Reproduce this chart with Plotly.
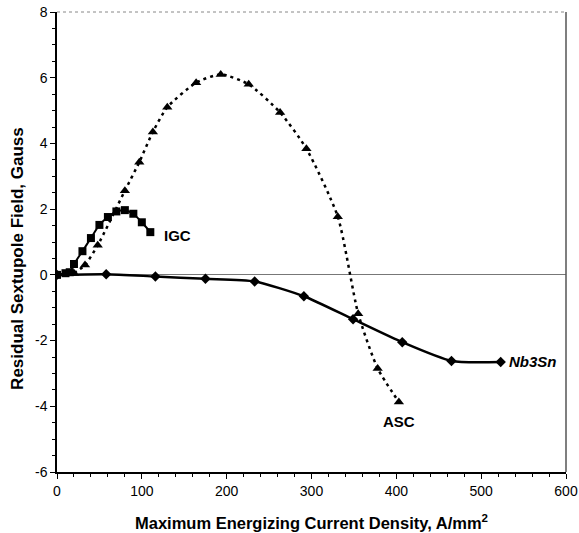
import plotly.graph_objects as go

# IGC conductor (squares, solid line)
igc_x = [0, 10, 15, 20, 30, 40, 50, 60, 70, 80, 90, 100, 110]
igc_y = [0, 0.05, 0.08, 0.33, 0.72, 1.12, 1.52, 1.76, 1.93, 1.97, 1.86, 1.6, 1.3]

# ASC conductor (triangles, dotted line)
asc_x = [20, 33, 48, 80, 97, 113, 130, 164, 193, 226, 263, 294, 331, 355, 378, 403]
asc_y = [0.05, 0.3, 0.9, 2.56, 3.43, 4.35, 5.1, 5.85, 6.1, 5.8, 4.94, 3.84, 1.77, -1.18, -2.85, -3.87]

# Nb3Sn conductor (diamonds, solid line)
nb_x = [0, 58, 116, 175, 233, 291, 349, 407, 465, 523]
nb_y = [0, 0.02, -0.05, -0.12, -0.2, -0.65, -1.35, -2.05, -2.62, -2.65]

x_ticks = [0, 100, 200, 300, 400, 500, 600]
y_ticks = [-6, -4, -2, 0, 2, 4, 6, 8]
y_ticktext = ['-6', '-4', '-2', '0', '2', '4', '6', '8']

FONT = 'Liberation Sans, Arial, sans-serif'

fig = go.Figure()
fig.add_trace(go.Scatter(x=nb_x, y=nb_y, mode='lines+markers',
                         line={'color': 'black', 'width': 2.5, 'shape': 'spline', 'smoothing': 0.6},
                         marker={'symbol': 'diamond', 'size': 8, 'color': 'black'},
                         showlegend=False))
fig.add_trace(go.Scatter(x=asc_x, y=asc_y, mode='lines+markers',
                         line={'color': 'black', 'width': 2.5, 'dash': '3px,4px',
                               'shape': 'spline', 'smoothing': 0.6},
                         marker={'symbol': 'triangle-up', 'size': 9, 'color': 'black'},
                         showlegend=False))
fig.add_trace(go.Scatter(x=igc_x, y=igc_y, mode='lines+markers',
                         line={'color': 'black', 'width': 2, 'shape': 'spline', 'smoothing': 0.5},
                         marker={'symbol': 'square', 'size': 8, 'color': 'black'},
                         showlegend=False))

label_font = {'family': FONT, 'size': 15, 'color': 'black'}
fig.add_annotation(x=124, y=1.2, text='<b>IGC</b>', showarrow=False, xanchor='left', font=label_font)
fig.add_annotation(x=531, y=-2.65, text='<b><i>Nb3Sn</i></b>', showarrow=False, xanchor='left', font=label_font)
fig.add_annotation(x=403, y=-4.45, text='<b>ASC</b>', showarrow=False, xanchor='center', font=label_font)

# y title sits a little below the middle of the axis in the original
fig.add_annotation(xref='paper', yref='paper', x=-0.079, y=0.465, textangle=-90,
                   text='<b>Residual Sextupole Field, Gauss</b>', showarrow=False,
                   xanchor='center', yanchor='middle',
                   font={'family': FONT, 'size': 17, 'color': 'black'})

# top and right frame, drawn lighter as in the scan
fig.add_shape(type='line', xref='paper', yref='paper', x0=0, x1=1, y0=1, y1=1,
              line={'color': '#888', 'width': 1, 'dash': 'dot'})
fig.add_shape(type='line', xref='paper', yref='paper', x0=1, x1=1, y0=0, y1=1,
              line={'color': '#555', 'width': 1.5})

fig.update_xaxes(range=[0, 600], tickvals=x_ticks, showgrid=False, zeroline=False,
                 showline=True, linecolor='black', linewidth=1.5, automargin=False,
                 ticks='outside', ticklen=5, tickcolor='black',
                 minor={'dtick': 20, 'ticks': 'outside', 'ticklen': 3, 'tickcolor': 'black'},
                 tickfont={'family': FONT, 'size': 14, 'color': 'black'},
                 title={'text': '<b>Maximum Energizing Current Density, A/mm<sup>2</sup></b>',
                        'font': {'family': FONT, 'size': 16.5, 'color': 'black'}, 'standoff': 20})
fig.update_yaxes(range=[-6, 8], tickvals=y_ticks, ticktext=y_ticktext, showgrid=False,
                 zeroline=True, zerolinecolor='#777', zerolinewidth=1,
                 showline=True, linecolor='black', linewidth=1.5, automargin=False,
                 ticks='outside', ticklen=5, tickcolor='black',
                 minor={'dtick': 0.5, 'ticks': 'outside', 'ticklen': 3, 'tickcolor': 'black'},
                 tickfont={'family': FONT, 'size': 14, 'color': 'black'})

fig.update_layout(width=579, height=533, margin={'l': 57, 'r': 13, 't': 12, 'b': 61},
                  plot_bgcolor='white', paper_bgcolor='white')

# drop the default page margin so the figure fills the window exactly
fig.write_html("out.html", config={'displayModeBar': False},
               post_script="document.body.style.margin='0';"
                           "document.body.style.overflow='hidden';")
